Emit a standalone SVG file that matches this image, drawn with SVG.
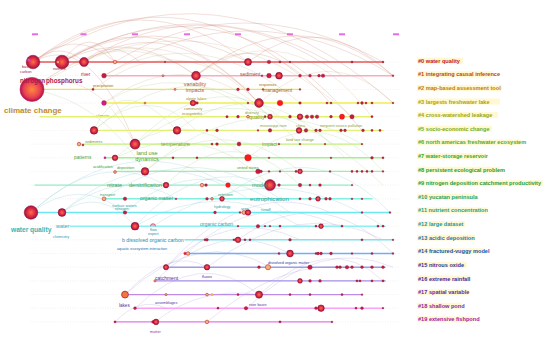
<svg xmlns="http://www.w3.org/2000/svg" width="550" height="340" viewBox="0 0 550 340">
<defs>
<radialGradient id="ng" cx="50%" cy="50%" r="50%">
<stop offset="0%" stop-color="#ff7040"/>
<stop offset="55%" stop-color="#e03048"/>
<stop offset="100%" stop-color="#a0103a"/>
</radialGradient>
<radialGradient id="cg" cx="50%" cy="50%" r="50%">
<stop offset="0%" stop-color="#ff8a40"/>
<stop offset="70%" stop-color="#e84050"/>
<stop offset="100%" stop-color="#b0104a"/>
</radialGradient>
<style>
text{font-family:"Liberation Sans",Arial,sans-serif}
.bg{fill:#ffffff}
.base{stroke:#d8d8d8;stroke-width:0.5;stroke-dasharray:1 1.5;opacity:0.7}
.ln{stroke-width:1.4;stroke-linecap:round}
.nd{fill:#c41e3e;stroke:#901030;stroke-width:0.3}
.big{fill:url(#ng);stroke:#8a0c30;stroke-width:0.5}
.ring{fill:#f6b070;stroke:#c02a40;stroke-width:0.6}
.red{fill:#ff1a1a;stroke:#c00020;stroke-width:0.3}
.arc{fill:none;stroke-width:0.55}
.a0{stroke:#c87a6a;opacity:0.45}
.a1{stroke:#c8a070;opacity:0.4}
.a2{stroke:#98c878;opacity:0.4}
.a3{stroke:#70bcc8;opacity:0.4}
.a4{stroke:#9a8ad0;opacity:0.4}
.t{font-size:5px}
.s{font-size:3.8px}
.cl{font-size:5.6px;font-weight:bold}
.hl{fill:#fff6c0;opacity:0.75}
.yr{fill:#e86ae8}
</style>
</defs>
<rect class="bg" x="0" y="0" width="550" height="340"/>

<g id="years">
<rect class="yr" x="32" y="33.3" width="6" height="2"/>
<rect class="yr" x="80.5" y="33.3" width="6" height="2"/>
<rect class="yr" x="132" y="33.3" width="6" height="2"/>
<rect class="yr" x="184" y="33.3" width="6" height="2"/>
<rect class="yr" x="235" y="33.3" width="6" height="2"/>
<rect class="yr" x="287" y="33.3" width="6" height="2"/>
<rect class="yr" x="339" y="33.3" width="6" height="2"/>
<rect class="yr" x="393" y="33.3" width="6" height="2"/>
</g>

<g id="baselines">
<line class="base" x1="30" y1="62" x2="400" y2="62"/>
<line class="base" x1="30" y1="75.7" x2="400" y2="75.7"/>
<line class="base" x1="30" y1="89.4" x2="400" y2="89.4"/>
<line class="base" x1="30" y1="103" x2="400" y2="103"/>
<line class="base" x1="30" y1="116.7" x2="400" y2="116.7"/>
<line class="base" x1="30" y1="130.4" x2="400" y2="130.4"/>
<line class="base" x1="30" y1="144.1" x2="400" y2="144.1"/>
<line class="base" x1="30" y1="157.8" x2="400" y2="157.8"/>
<line class="base" x1="30" y1="171.4" x2="400" y2="171.4"/>
<line class="base" x1="30" y1="185.1" x2="400" y2="185.1"/>
<line class="base" x1="30" y1="198.8" x2="400" y2="198.8"/>
<line class="base" x1="30" y1="212.5" x2="400" y2="212.5"/>
<line class="base" x1="30" y1="226.2" x2="400" y2="226.2"/>
<line class="base" x1="30" y1="239.8" x2="400" y2="239.8"/>
<line class="base" x1="30" y1="253.5" x2="400" y2="253.5"/>
<line class="base" x1="30" y1="267.2" x2="400" y2="267.2"/>
<line class="base" x1="30" y1="280.9" x2="400" y2="280.9"/>
<line class="base" x1="30" y1="294.6" x2="400" y2="294.6"/>
<line class="base" x1="30" y1="308.2" x2="400" y2="308.2"/>
<line class="base" x1="30" y1="321.9" x2="400" y2="321.9"/>
</g>

<g id="connectors">
<path class="arc a0" d="M33 62 Q140 -22 248 62"/>
<path class="arc a0" d="M33 62 Q170 -34 300 75.7"/>
<path class="arc a0" d="M62 62 Q160 -4 259 103"/>
<path class="arc a0" d="M62 62 Q90 22 115 62"/>
<path class="arc a0" d="M33 62 Q75 26 115 62"/>
<path class="arc a0" d="M62 62 Q195 -14 330 62"/>
<path class="arc a0" d="M84 62 Q210 -18 342 75.7"/>
<path class="arc a0" d="M104 75.7 Q250 -14 393 75.7"/>
<path class="arc a0" d="M196 75.7 Q300 -4 393 75.7"/>
<path class="arc a0" d="M33 62 Q90 30 135 144"/>
<path class="arc a0" d="M62 62 Q130 26 196 75.7"/>
<path class="arc a0" d="M84 62 Q170 8 259 103"/>
<path class="arc a0" d="M115 62 Q240 -16 383 62"/>
<path class="arc a0" d="M33 62 Q220 -52 393 103"/>
<path class="arc a0" d="M62 62 Q230 -34 362 130.4"/>
<path class="arc a0" d="M248 62 Q320 6 393 75.7"/>
<path class="arc a0" d="M84 62 Q110 36 140 62"/>
<path class="arc a0" d="M33 62 Q60 40 84 62"/>
<path class="arc a0" d="M62 62 Q150 10 248 62"/>
<path class="arc a0" d="M196 75.7 Q260 20 330 103"/>
<path class="arc a1" d="M32 89.4 Q120 20 196 75.7"/>
<path class="arc a1" d="M32 89.4 Q150 0 259 103"/>
<path class="arc a1" d="M104 103 Q190 40 270 116.7"/>
<path class="arc a1" d="M93 89.4 Q170 30 248 89.4"/>
<path class="arc a1" d="M104 75.7 Q200 20 300 103"/>
<path class="arc a1" d="M32 89.4 Q90 60 135 144"/>
<path class="arc a1" d="M196 75.7 Q290 10 372 116.7"/>
<path class="arc a1" d="M259 103 Q330 40 393 103"/>
<path class="arc a1" d="M32 89.4 Q200 -20 352 116.7"/>
<path class="arc a2" d="M94 130.4 Q150 80 196 130.4"/>
<path class="arc a2" d="M135 144.1 Q210 66 280 116.7"/>
<path class="arc a2" d="M115 157.8 Q180 100 248 157.8"/>
<path class="arc a2" d="M145 171.4 Q220 108 300 171.4"/>
<path class="arc a2" d="M104 103 Q180 56 259 116.7"/>
<path class="arc a2" d="M94 130.4 Q200 36 300 144.1"/>
<path class="arc a2" d="M177 130.4 Q260 66 345 157.8"/>
<path class="arc a2" d="M135 144.1 Q250 56 383 185.1"/>
<path class="arc a2" d="M166 185.1 Q230 118 300 185.1"/>
<path class="arc a2" d="M115 157.8 Q200 116 270 185.1"/>
<path class="arc a2" d="M94 130.4 Q120 70 177 130.4"/>
<path class="arc a2" d="M145 171.4 Q250 80 362 144.1"/>
<path class="arc a2" d="M248 157.8 Q320 100 383 171.4"/>
<path class="arc a2" d="M32 89.4 Q100 100 145 171.4"/>
<path class="arc a3" d="M31 212.5 Q100 148 166 185.1"/>
<path class="arc a3" d="M31 212.5 Q130 126 228 185.1"/>
<path class="arc a3" d="M62 212.5 Q120 166 177 198.8"/>
<path class="arc a3" d="M62 212.5 Q150 136 248 198.8"/>
<path class="arc a3" d="M135 226.2 Q200 156 270 185.1"/>
<path class="arc a3" d="M104 198.8 Q190 136 280 198.8"/>
<path class="arc a3" d="M125 212.5 Q200 146 290 212.5"/>
<path class="arc a3" d="M135 226.2 Q220 176 300 226.2"/>
<path class="arc a3" d="M31 212.5 Q80 176 125 212.5"/>
<path class="arc a3" d="M62 212.5 Q100 186 135 226.2"/>
<path class="arc a3" d="M222 198.8 Q310 130 390 212.5"/>
<path class="arc a3" d="M153 226.2 Q270 150 383 226.2"/>
<path class="arc a4" d="M166 267.2 Q230 206 300 239.8"/>
<path class="arc a4" d="M155 280.9 Q220 216 290 253.5"/>
<path class="arc a4" d="M125 294.6 Q200 226 270 267.2"/>
<path class="arc a4" d="M135 308.2 Q200 246 259 294.6"/>
<path class="arc a4" d="M207 267.2 Q300 196 383 239.8"/>
<path class="arc a4" d="M125 294.6 Q170 246 207 267.2"/>
<path class="arc a4" d="M247 308.2 Q320 236 393 267.2"/>
<path class="arc a4" d="M186 253.5 Q260 186 338 226.2"/>
<path class="arc a4" d="M166 267.2 Q250 176 330 212.5"/>
<path class="arc a4" d="M155 321.9 Q200 286 259 294.6"/>
<path class="arc a4" d="M115 321.9 Q140 296 166 308.2"/>
<path class="arc a4" d="M238 239.8 Q320 180 393 253.5"/>
<path class="arc a4" d="M259 294.6 Q330 230 383 280.9"/>
<path class="arc a4" d="M207 321.9 Q280 260 347 267.2"/>
</g>

<g id="cluster-2" transform="translate(0,89.4)">
<line class="ln" x1="32" y1="0" x2="300" y2="0" stroke="#f2de60"/>
<circle cx="32" cy="0" r="12" fill="url(#cg)" stroke="#c02060" stroke-width="0.6"/>
<circle class="nd" cx="93" cy="0" r="1.1"/>
<circle class="ring" cx="175" cy="0" r="1"/>
<circle class="nd" cx="238" cy="0" r="1.4"/>
<circle class="nd" cx="248" cy="0" r="1.4"/>
<circle class="nd" cx="263" cy="0" r="0.9"/>
<circle class="nd" cx="300" cy="0" r="0.9"/>
<text class="s" x="93" y="-2.5" fill="#a06a20" font-size="3.6">precipitation</text>
<text class="s" x="259" y="-3.2" fill="#a06a20" font-size="4">responses</text>
<text x="263" y="2.4" fill="#a06a20" font-size="5">management</text>
</g>

<g id="cluster-0" transform="translate(0,62)">
<line class="ln" x1="33" y1="0" x2="383" y2="0" stroke="#e8585a"/>
<circle class="big" cx="33" cy="0" r="6.8"/>
<circle cx="29" cy="-2" r="1.6" fill="#e040c0"/>
<circle class="big" cx="62" cy="0" r="6.8"/>
<circle class="ring" cx="58" cy="0" r="1.5"/>
<circle class="big" cx="84" cy="0" r="4.5"/>
<circle class="ring" cx="115" cy="0" r="1.8"/>
<circle class="nd" cx="165" cy="0" r="0.8"/>
<circle class="big" cx="248" cy="0" r="3.5"/>
<circle class="nd" cx="269" cy="0" r="1.8"/>
<circle class="nd" cx="280" cy="0" r="1.1"/>
<circle class="nd" cx="290" cy="0" r="0.9"/>
<circle class="nd" cx="352" cy="0" r="1.1"/>
<circle class="nd" cx="383" cy="0" r="1"/>
<text class="s" x="22" y="6" fill="#a02848" font-size="4.5">basic</text>
<text class="s" x="20" y="11" fill="#a02848" font-size="4.5">carbon</text>
<text class="s" x="53" y="8" fill="#a02848">nutrient</text>
<text x="20" y="20.5" fill="#a82050" font-size="6.3" font-weight="bold">nitrogen</text>
<text x="46" y="20.5" fill="#a82050" font-size="6.3" font-weight="bold">phosphorus</text>
<text x="81" y="13.8" fill="#a82050" font-size="4.8">river</text>
</g>

<g id="cluster-1" transform="translate(0,75.7)">
<line class="ln" x1="104" y1="0" x2="393" y2="0" stroke="#f6aebe" stroke-width="1.8"/>
<circle class="nd" cx="104" cy="0" r="2.4"/>
<circle class="ring" cx="163" cy="0" r="1"/>
<circle class="big" cx="196" cy="0" r="4.4"/>
<circle class="nd" cx="262" cy="0" r="0.9"/>
<circle class="nd" cx="269" cy="0" r="2.4"/>
<circle class="big" cx="279" cy="0" r="3.4"/>
<circle class="nd" cx="300" cy="0" r="1.4"/>
<circle class="nd" cx="310" cy="0" r="1.4"/>
<circle class="nd" cx="319" cy="0" r="1.4"/>
<circle class="nd" cx="323" cy="0" r="1.8"/>
<circle class="nd" cx="393" cy="0" r="0.9"/>
<text class="t" x="240" y="0.5" fill="#a84a3a">sediment</text>
<text x="195" y="10" fill="#b06030" font-size="5.4" text-anchor="middle">variability</text>
<text x="195" y="16" fill="#b06030" font-size="5.4" text-anchor="middle">impacts</text>
</g>

<g id="cluster-3" transform="translate(0,103)">
<line class="ln" x1="104" y1="0" x2="393" y2="0" stroke="#f0ee50"/>
<circle cx="104" cy="0" r="2.4" fill="#d02080" stroke="#a01050" stroke-width="0.4"/>
<circle class="ring" cx="145" cy="0" r="0.9"/>
<circle class="big" cx="193" cy="0" r="2.8"/>
<circle class="nd" cx="197" cy="0" r="1.3"/>
<circle class="nd" cx="248" cy="0" r="0.9"/>
<circle class="big" cx="259" cy="0" r="4.4"/>
<circle class="red" cx="280" cy="0" r="2.8"/>
<circle class="nd" cx="300" cy="0" r="1.3"/>
<circle class="nd" cx="327" cy="0" r="1.1"/>
<circle class="nd" cx="331" cy="0" r="1.1"/>
<circle class="nd" cx="358" cy="0" r="1.1"/>
<circle class="nd" cx="362" cy="0" r="1.4"/>
<circle class="nd" cx="366" cy="0" r="1.1"/>
<circle class="nd" cx="372" cy="0" r="1.1"/>
<circle class="nd" cx="393" cy="0" r="0.9"/>
<text x="4" y="9.5" fill="#c08a30" font-size="8" font-weight="bold">climate change</text>
<text x="96" y="14" fill="#a8a030" font-size="4.2">climate</text>
<text class="s" x="186" y="-3" fill="#9a9030" font-size="3.4">alpine lakes</text>
<text class="s" x="184" y="7" fill="#9a9030">community</text>
<text class="s" x="182" y="12" fill="#9a9030">ecosystems</text>
</g>

<g id="cluster-4" transform="translate(0,116.7)">
<line class="ln" x1="40" y1="0" x2="372" y2="0" stroke="#e4f070"/>
<circle class="nd" cx="227" cy="0" r="1.2"/>
<circle class="nd" cx="238" cy="0" r="1.4"/>
<circle class="ring" cx="248" cy="0" r="1.4"/>
<circle class="nd" cx="265" cy="0" r="1.1"/>
<circle class="big" cx="270" cy="0" r="2.4"/>
<circle class="nd" cx="290" cy="0" r="1.4"/>
<circle class="big" cx="300" cy="0" r="2.8"/>
<circle class="nd" cx="307" cy="0" r="1.8"/>
<circle class="nd" cx="312" cy="0" r="1.8"/>
<circle class="nd" cx="317" cy="0" r="1.8"/>
<circle class="nd" cx="331" cy="0" r="1.4"/>
<circle class="red" cx="342" cy="0" r="2.6"/>
<circle class="nd" cx="352" cy="0" r="2.2"/>
<circle class="nd" cx="372" cy="0" r="1.1"/>
<text x="249" y="2" fill="#90a030" font-size="5.4">quality</text>
<text class="s" x="245" y="-3.2" fill="#90a030">diversity</text>
</g>

<g id="cluster-5" transform="translate(0,130.4)">
<line class="ln" x1="94" y1="0" x2="383" y2="0" stroke="#e2f078"/>
<circle class="big" cx="94" cy="0" r="3.8"/>
<circle class="big" cx="177" cy="0" r="3.8"/>
<circle class="nd" cx="207" cy="0" r="1.1"/>
<circle class="nd" cx="217" cy="0" r="1.4"/>
<circle class="nd" cx="258" cy="0" r="0.9"/>
<circle class="nd" cx="270" cy="0" r="1.8"/>
<circle class="big" cx="299" cy="0" r="2.8"/>
<circle class="nd" cx="306" cy="0" r="1.8"/>
<circle class="nd" cx="316" cy="0" r="1.4"/>
<circle class="nd" cx="320" cy="0" r="1.4"/>
<circle class="nd" cx="341" cy="0" r="1.4"/>
<circle class="nd" cx="345" cy="0" r="1.4"/>
<circle class="nd" cx="363" cy="0" r="1.4"/>
<circle class="nd" cx="372" cy="0" r="1.1"/>
<circle class="nd" cx="380" cy="0" r="1.1"/>
<text class="s" x="260" y="-3.5" fill="#90a030" font-size="3.4">mississippi river</text>
<text class="s" x="296" y="-3.5" fill="#90a030">china</text>
<text class="s" x="320" y="-3.5" fill="#90a030" font-size="3.4">nonpoint source pollution</text>
</g>

<g id="cluster-6" transform="translate(0,144.1)">
<line class="ln" x1="80" y1="0" x2="362" y2="0" stroke="#c6f080"/>
<circle class="ring" cx="79" cy="0" r="1.8"/>
<circle class="nd" cx="83" cy="1" r="1"/>
<circle class="big" cx="135" cy="0" r="5"/>
<circle class="nd" cx="212" cy="0" r="1.1"/>
<circle class="nd" cx="217" cy="0" r="1.4"/>
<circle class="nd" cx="239" cy="0" r="2"/>
<circle class="nd" cx="279" cy="0" r="0.9"/>
<circle class="nd" cx="300" cy="0" r="0.9"/>
<circle class="nd" cx="325" cy="0" r="0.9"/>
<circle class="nd" cx="362" cy="0" r="0.9"/>
<text class="s" x="85" y="-1.2" fill="#70a030" font-size="4">sediments</text>
<text x="161" y="1.8" fill="#80a030" font-size="5.4">temperature</text>
<text x="262" y="1.5" fill="#80a030" font-size="5.2">impact</text>
<text class="s" x="286" y="-3.5" fill="#80a030" font-size="3.4">land use change</text>
</g>

<g id="cluster-7" transform="translate(0,157.8)">
<line class="ln" x1="105" y1="0" x2="383" y2="0" stroke="#a4f090" stroke-width="1.8"/>
<circle cx="105" cy="0" r="1.3" fill="#d020a0"/>
<circle class="big" cx="115" cy="0" r="2.8"/>
<circle class="nd" cx="173" cy="0" r="1.1"/>
<circle class="nd" cx="197" cy="0" r="1.1"/>
<circle class="red" cx="248" cy="0" r="3.3"/>
<circle class="nd" cx="269" cy="0" r="0.9"/>
<circle class="nd" cx="331" cy="0" r="0.9"/>
<circle class="nd" cx="372" cy="0" r="1.4"/>
<circle class="nd" cx="383" cy="0" r="1.1"/>
<text x="74" y="1.5" fill="#50a030" font-size="4.8">patterns</text>
<text x="147" y="-3" fill="#50a030" font-size="5.6" text-anchor="middle">land use</text>
<text x="147" y="3.5" fill="#50a030" font-size="5.6" text-anchor="middle">dynamics</text>
</g>

<g id="cluster-8" transform="translate(0,171.4)">
<line class="ln" x1="115" y1="0" x2="383" y2="0" stroke="#9cf09c"/>
<circle class="ring" cx="115" cy="0.6" r="1.4"/>
<circle class="big" cx="145" cy="0" r="3.8"/>
<circle class="nd" cx="258" cy="0" r="2.4"/>
<circle class="nd" cx="261" cy="0" r="1.4"/>
<circle class="nd" cx="269" cy="0" r="0.9"/>
<circle class="nd" cx="280" cy="0" r="0.9"/>
<circle class="nd" cx="296" cy="0" r="1.1"/>
<circle class="big" cx="300" cy="0" r="2.4"/>
<circle class="nd" cx="330" cy="0" r="0.9"/>
<circle class="nd" cx="352" cy="0" r="1.1"/>
<circle class="nd" cx="357" cy="0" r="1.1"/>
<circle class="nd" cx="362" cy="0" r="1.1"/>
<circle class="nd" cx="367" cy="0" r="1.1"/>
<circle class="nd" cx="372" cy="0" r="1.1"/>
<circle class="nd" cx="383" cy="0" r="0.9"/>
<text class="s" x="93" y="-3" fill="#40a040" font-size="3.4">acidification</text>
<text class="s" x="117" y="-2.5" fill="#40a040">deposition</text>
<text class="s" x="237" y="-2.6" fill="#40a040">united states</text>
</g>

<g id="cluster-9" transform="translate(0,185.1)">
<line class="ln" x1="35" y1="0" x2="350" y2="0" stroke="#92f0c4"/>
<circle class="big" cx="166" cy="0" r="2.8"/>
<circle class="ring" cx="202" cy="0" r="1.8"/>
<circle class="nd" cx="206" cy="0" r="1.4"/>
<circle class="red" cx="228" cy="0" r="2.4"/>
<circle class="big" cx="270" cy="0" r="5.5"/>
<circle class="nd" cx="279" cy="0" r="1.4"/>
<circle class="nd" cx="300" cy="0" r="1.8"/>
<circle class="nd" cx="310" cy="0" r="1.1"/>
<circle class="nd" cx="320" cy="0" r="1.4"/>
<circle class="nd" cx="352" cy="0" r="0.9"/>
<text x="107" y="1.8" fill="#40a060" font-size="5.4">nitrate</text>
<text x="129" y="1.5" fill="#40a060" font-size="5.6">denitrification</text>
<text x="252" y="1.8" fill="#40a060" font-size="5.6">model</text>
</g>

<g id="cluster-10" transform="translate(0,198.8)">
<line class="ln" x1="104" y1="0" x2="372" y2="0" stroke="#80f0e0"/>
<circle class="ring" cx="104" cy="0" r="1.9"/>
<circle class="nd" cx="125" cy="0" r="1.8"/>
<circle class="nd" cx="176" cy="0" r="0.9"/>
<circle class="nd" cx="207" cy="0" r="1.4"/>
<circle class="ring" cx="212" cy="0" r="1.3"/>
<circle class="big" cx="222" cy="0" r="2.4"/>
<circle class="nd" cx="300" cy="0" r="1.1"/>
<circle class="nd" cx="310" cy="0" r="1.4"/>
<circle class="big" cx="318" cy="0" r="2.4"/>
<circle class="nd" cx="326" cy="0" r="1.4"/>
<circle class="nd" cx="330" cy="0" r="1.4"/>
<circle class="nd" cx="352" cy="0" r="0.9"/>
<circle class="nd" cx="362" cy="0" r="0.9"/>
<text class="s" x="100" y="-3.2" fill="#30a070">transport</text>
<text x="140" y="1.5" fill="#30a070" font-size="5.2">organic matter</text>
<text class="s" x="218" y="-3.2" fill="#30a070">retention</text>
<text x="250" y="2.2" fill="#30a090" font-size="6.2">eutrophication</text>
</g>

<g id="cluster-11" transform="translate(0,212.5)">
<line class="ln" x1="31" y1="0" x2="390" y2="0" stroke="#6ee8f0" stroke-width="1.6"/>
<circle class="big" cx="31" cy="0" r="6.8"/>
<circle class="big" cx="62" cy="0" r="3.9"/>
<circle class="nd" cx="125" cy="0" r="1.8"/>
<circle class="nd" cx="215" cy="0" r="1.4"/>
<circle class="nd" cx="240" cy="0" r="0.9"/>
<circle class="ring" cx="244" cy="0" r="2"/>
<circle class="big" cx="248" cy="0" r="2.8"/>
<circle class="nd" cx="362" cy="0" r="0.9"/>
<circle class="nd" cx="390" cy="0" r="0.9"/>
<text class="s" x="112" y="-6" fill="#30a0a0" font-size="3.2">surface waters</text>
<text class="s" x="115" y="-2.5" fill="#30a0a0" font-size="3.2">nitrogen</text>
<text class="s" x="214" y="-4.5" fill="#30a0a0" font-size="3.4">hydrology</text>
<text class="s" x="241" y="-3" fill="#30a0a0" font-size="3.4">area</text>
<text class="s" x="261" y="-1.5" fill="#30a0a0">runoff</text>
</g>

<g id="cluster-12" transform="translate(0,226.2)">
<line class="ln" x1="70" y1="0" x2="385" y2="0" stroke="#8af0f0" stroke-width="1.6"/>
<circle class="big" cx="135" cy="0" r="3.9"/>
<path d="M150.5 0 A2.5 2.5 0 0 1 155.5 0" fill="#f0b0c8" stroke="#c02050" stroke-width="0.6"/>
<circle class="nd" cx="238" cy="0" r="0.9"/>
<circle class="nd" cx="258" cy="0" r="1.8"/>
<circle class="nd" cx="265" cy="0" r="0.9"/>
<circle class="nd" cx="270" cy="0" r="0.9"/>
<circle class="nd" cx="280" cy="0" r="1.1"/>
<circle class="nd" cx="316" cy="0" r="1.1"/>
<circle class="big" cx="321" cy="0" r="2.4"/>
<circle class="nd" cx="342" cy="0" r="1.1"/>
<circle class="nd" cx="378" cy="0" r="1.1"/>
<circle class="nd" cx="383" cy="0" r="1.1"/>
<text x="11" y="5.8" fill="#30b8b8" font-size="6.6" font-weight="bold">water quality</text>
<text x="56" y="2" fill="#30a8b0" font-size="5.4">water</text>
<text class="s" x="53" y="11.5" fill="#3098a8">chemistry</text>
<text class="s" x="150" y="4.5" fill="#3098a8" font-size="3.4">flow</text>
<text class="s" x="148" y="9" fill="#3098a8">export</text>
<text x="200" y="0" fill="#30a8b0" font-size="5">organic carbon</text>
</g>

<g id="cluster-13" transform="translate(0,239.8)">
<line class="ln" x1="185" y1="0" x2="393" y2="0" stroke="#80e2ec"/>
<circle class="nd" cx="205" cy="0" r="1.1"/>
<circle class="nd" cx="207" cy="0" r="1.4"/>
<circle class="nd" cx="234" cy="0" r="1.1"/>
<circle class="big" cx="238" cy="0" r="2.8"/>
<circle class="nd" cx="245" cy="0" r="1.1"/>
<circle class="nd" cx="250" cy="0" r="1.1"/>
<circle class="nd" cx="290" cy="0" r="1.4"/>
<circle class="nd" cx="362" cy="0" r="1.1"/>
<circle class="nd" cx="393" cy="0" r="0.9"/>
<text x="122" y="1.8" fill="#2890b0" font-size="5.2">b dissolved organic carbon</text>
</g>

<g id="cluster-14" transform="translate(0,253.5)">
<line class="ln" x1="185" y1="0" x2="393" y2="0" stroke="#70aef6"/>
<circle class="red" cx="185" cy="0" r="1.2"/>
<circle class="ring" cx="188" cy="0" r="1.8"/>
<circle class="nd" cx="279" cy="0" r="1.1"/>
<circle class="big" cx="290" cy="0" r="3.4"/>
<circle class="nd" cx="316" cy="0" r="1.1"/>
<circle class="nd" cx="318" cy="0" r="1.4"/>
<circle class="nd" cx="321" cy="0" r="1.4"/>
<circle class="nd" cx="331" cy="0" r="1.4"/>
<circle class="nd" cx="352" cy="0" r="0.9"/>
<circle class="nd" cx="372" cy="0" r="1.1"/>
<circle class="nd" cx="393" cy="0" r="0.9"/>
<text class="s" x="117" y="-4" fill="#2070b0" font-size="3.4">aquatic ecosystem interaction</text>
</g>

<g id="cluster-15" transform="translate(0,267.2)">
<line class="ln" x1="166" y1="0" x2="385" y2="0" stroke="#a09ae8" stroke-width="1.6"/>
<circle class="big" cx="166" cy="0" r="2.6"/>
<circle class="big" cx="207" cy="0" r="2.8"/>
<circle class="nd" cx="259" cy="0" r="1.4"/>
<circle class="ring" cx="268" cy="0" r="2.6"/>
<circle class="nd" cx="310" cy="0" r="2.2"/>
<circle class="nd" cx="337" cy="0" r="1.4"/>
<circle class="nd" cx="340" cy="0" r="1.4"/>
<circle class="nd" cx="347" cy="0" r="1.8"/>
<circle class="nd" cx="352" cy="0" r="1.4"/>
<circle class="nd" cx="362" cy="0" r="1.4"/>
<circle class="nd" cx="372" cy="0" r="1.4"/>
<circle class="nd" cx="383" cy="0" r="1.4"/>
<text class="s" x="268" y="-3.2" fill="#3040a0" font-size="3.6">dissolved organic matter</text>
</g>

<g id="cluster-16" transform="translate(0,280.9)">
<line class="ln" x1="155" y1="0" x2="385" y2="0" stroke="#a68ee8" stroke-width="1.6"/>
<circle class="ring" cx="155" cy="0" r="1.1"/>
<circle class="big" cx="300" cy="0" r="2.4"/>
<circle class="nd" cx="310" cy="0" r="1.4"/>
<circle class="nd" cx="320" cy="0" r="1.4"/>
<circle class="nd" cx="357" cy="0" r="1.1"/>
<circle class="nd" cx="360" cy="0" r="1.1"/>
<circle class="nd" cx="372" cy="0" r="1.1"/>
<circle class="nd" cx="383" cy="0" r="1.1"/>
<text x="155" y="-0.5" fill="#4030a0" font-size="5">catchment</text>
<text class="s" x="202" y="-2.5" fill="#4030a0">fluxes</text>
</g>

<g id="cluster-17" transform="translate(0,294.6)">
<line class="ln" x1="125" y1="0" x2="362" y2="0" stroke="#bc8ce6" stroke-width="1.6"/>
<circle cx="125" cy="0" r="3.4" fill="#f07840" stroke="#c02040" stroke-width="0.9"/>
<circle class="ring" cx="166" cy="0" r="1.1"/>
<circle class="ring" cx="207" cy="0" r="1.4"/>
<circle cx="212" cy="0" r="1.4" fill="#f0b060"/>
<circle class="nd" cx="238" cy="0" r="1.1"/>
<circle class="big" cx="259" cy="0" r="3.6"/>
<circle class="nd" cx="290" cy="0" r="1.1"/>
<circle class="nd" cx="310" cy="0" r="1.1"/>
<circle class="nd" cx="342" cy="0" r="1.1"/>
<circle class="nd" cx="362" cy="0" r="0.9"/>
</g>

<g id="cluster-18" transform="translate(0,308.2)">
<line class="ln" x1="135" y1="0" x2="383" y2="0" stroke="#f8a2f8" stroke-width="1.8"/>
<circle class="nd" cx="135" cy="0" r="1.4"/>
<circle class="nd" cx="218" cy="0" r="1.1"/>
<circle class="nd" cx="246" cy="0" r="1.8"/>
<circle class="nd" cx="316" cy="0" r="1.4"/>
<circle class="big" cx="321" cy="0" r="3.3"/>
<circle class="nd" cx="356" cy="0" r="1.1"/>
<circle class="nd" cx="362" cy="0" r="1.4"/>
<circle class="nd" cx="383" cy="0" r="0.9"/>
<text x="119" y="-1" fill="#6030a0" font-size="4.6">lakes</text>
<text class="s" x="155" y="-4" fill="#6030a0">assemblages</text>
<text class="s" x="249" y="-2.5" fill="#6030a0">river basin</text>
</g>

<g id="cluster-19" transform="translate(0,321.9)">
<line class="ln" x1="115" y1="0" x2="332" y2="0" stroke="#e47ae4"/>
<circle class="nd" cx="115" cy="0" r="1.1"/>
<circle class="nd" cx="153" cy="0" r="1.4"/>
<circle class="big" cx="156" cy="0" r="2.8"/>
<circle class="ring" cx="207" cy="0" r="1.8"/>
<circle class="nd" cx="280" cy="0" r="1.1"/>
<circle class="nd" cx="332" cy="0" r="0.9"/>
<text class="s" x="150" y="11" fill="#9030a0" font-size="4.2">matter</text>
</g>

<g id="legend">
<rect class="hl" x="417" y="57.7" width="46" height="6"/>
<text class="cl" x="418" y="62.7" fill="#c42020">#0 water quality</text>
<rect class="hl" x="417" y="71.3" width="75" height="6"/>
<text class="cl" x="418" y="76.3" fill="#b84a12">#1 integrating causal inference</text>
<rect class="hl" x="417" y="84.9" width="85" height="6"/>
<text class="cl" x="418" y="89.9" fill="#c07a10">#2 map-based assessment tool</text>
<rect class="hl" x="417" y="98.5" width="83" height="6"/>
<text class="cl" x="418" y="103.5" fill="#b0a012">#3 largests freshwater lake</text>
<rect class="hl" x="417" y="112.1" width="81" height="6"/>
<text class="cl" x="418" y="117.1" fill="#98a814">#4 cross-watershed leakage</text>
<rect class="hl" x="417" y="125.8" width="75" height="6"/>
<text class="cl" x="418" y="130.8" fill="#78ae20">#5 socio-economic change</text>
<rect class="hl" x="417" y="139.4" width="104" height="6"/>
<text class="cl" x="418" y="144.4" fill="#52aa2c">#6 north americas freshwater ecosystem</text>
<rect class="hl" x="417" y="153" width="66" height="6"/>
<text class="cl" x="418" y="158" fill="#30aa30">#7 water-storage reservoir</text>
<rect class="hl" x="417" y="166.6" width="82" height="6"/>
<text class="cl" x="418" y="171.6" fill="#22a236">#8 persistent ecological problem</text>
<rect class="hl" x="417" y="180.2" width="126" height="6"/>
<text class="cl" x="418" y="185.2" fill="#20a04c">#9 nitrogen deposition catchment productivity</text>
<rect class="hl" x="417" y="193.8" width="58" height="6"/>
<text class="cl" x="418" y="198.8" fill="#20a46c">#10 yucatan peninsula</text>
<rect class="hl" x="417" y="207.4" width="70" height="6"/>
<text class="cl" x="418" y="212.4" fill="#20a48c">#11 nutrient concentration</text>
<rect class="hl" x="417" y="221" width="48" height="6"/>
<text class="cl" x="418" y="226" fill="#2098ac">#12 large dataset</text>
<rect class="hl" x="417" y="234.6" width="58" height="6"/>
<text class="cl" x="418" y="239.6" fill="#2076b0">#13 acidic deposition</text>
<rect class="hl" x="417" y="248.2" width="66" height="6"/>
<text class="cl" x="418" y="253.2" fill="#2052b0">#14 fractured-vuggy model</text>
<rect class="hl" x="417" y="261.9" width="50" height="6"/>
<text class="cl" x="418" y="266.9" fill="#3232a4">#15 nitrous oxide</text>
<rect class="hl" x="417" y="275.5" width="53" height="6"/>
<text class="cl" x="418" y="280.5" fill="#4428aa">#16 extreme rainfall</text>
<rect class="hl" x="417" y="289.1" width="52" height="6"/>
<text class="cl" x="418" y="294.1" fill="#6028aa">#17 spatial variable</text>
<rect class="hl" x="417" y="302.7" width="45" height="6"/>
<text class="cl" x="418" y="307.7" fill="#8028aa">#18 shallow pond</text>
<rect class="hl" x="417" y="316.3" width="56" height="6"/>
<text class="cl" x="418" y="321.3" fill="#a020a0">#19 extensive fishpond</text>
</g>
</svg>
